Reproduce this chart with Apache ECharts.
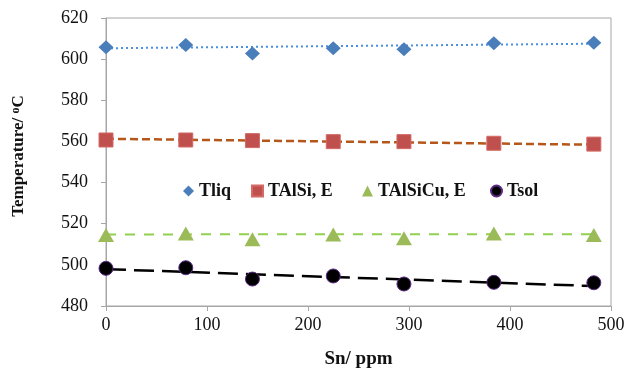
<!DOCTYPE html>
<html>
<head>
<meta charset="utf-8">
<script src="https://cdn.jsdelivr.net/npm/echarts@6/dist/echarts.min.js"></script>
<style>
  html, body { margin: 0; padding: 0; background: #fff; }
  #chart { width: 628px; height: 370px; }
</style>
</head>
<body>
<div id="chart"></div>
<script>
// Sn additions (ppm) and characteristic temperatures (°C)
const sn       = [0, 79, 145, 225, 295, 384, 483];
const tLiq     = [605.8, 606.9, 602.8, 605.3, 604.8, 607.7, 608.0];
const tAlSi    = [560.7, 560.7, 560.4, 559.9, 559.9, 559.1, 558.7];
const tAlSiCu  = [514.5, 515.3, 512.4, 514.8, 512.9, 515.3, 514.5];
const tSol     = [498.3, 498.6, 493.1, 494.6, 490.7, 491.5, 491.3];

// Linear trend lines: value at first and last Sn level
const trendX       = [0, 483];
const trendLiq     = [605.3, 607.5];
const trendAlSi    = [561.3, 558.4];
const trendAlSiCu  = [514.8, 514.9];
const trendSol     = [497.9, 489.7];

const seriesNames = ['Tliq', 'TAlSi, E', 'TAlSiCu, E', 'Tsol'];
const yTicks = { min: 480, max: 620, step: 20 };
const xTicks = { min: 0, max: 500, step: 100 };

const serif = '"Liberation Serif", "Times New Roman", serif';

const pairs = (xs, ys) => xs.map((x, i) => [x, ys[i]]);

function points(name, ys, symbol, size, color, border) {
  return {
    name: name, type: 'scatter', data: pairs(sn, ys),
    symbol: symbol, symbolSize: size, z: 5,
    itemStyle: { color: color, borderColor: border || color, borderWidth: border ? 1 : 0, opacity: 1 }
  };
}
function trend(ys, color, width, dash) {
  return {
    type: 'line', data: pairs(trendX, ys), symbol: 'none', silent: true, z: 3,
    lineStyle: { color: color, width: width, type: dash }
  };
}

const chart = echarts.init(document.getElementById('chart'));
chart.setOption({
  animation: false,
  grid: {
    left: 106, right: 17, top: 18, bottom: 64, outerBoundsMode: 'none', containLabel: false,
    show: true, borderColor: '#a6a6a6', borderWidth: 1
  },
  legend: [
    { left: 178, name: seriesNames[0] },
    { left: 246, name: seriesNames[1] },
    { left: 357, name: seriesNames[2] },
    { left: 485, name: seriesNames[3] }
  ].map(l => ({
    data: [l.name], left: l.left, top: 177, itemWidth: 11, itemHeight: 11, itemGap: 0,
    textStyle: { fontFamily: serif, fontSize: 18, fontWeight: 'bold', color: '#111', padding: [0, 0, 0, 0] }
  })),
  xAxis: {
    type: 'value', min: xTicks.min, max: xTicks.max, interval: xTicks.step,
    name: 'Sn/ ppm', nameLocation: 'middle', nameGap: 44,
    nameTextStyle: { fontFamily: serif, fontSize: 19, fontWeight: 'bold', color: '#111' },
    axisLine: { show: true, lineStyle: { color: '#a6a6a6' } },
    axisTick: { show: true, length: 5, lineStyle: { color: '#a6a6a6' } },
    splitLine: { show: false },
    axisLabel: { fontFamily: serif, fontSize: 18, color: '#111', margin: 10 }
  },
  yAxis: {
    type: 'value', min: yTicks.min, max: yTicks.max, interval: yTicks.step,
    name: 'Temperature/ {sup|o}C', nameLocation: 'middle', nameGap: 78, nameRotate: 90,
    nameTextStyle: {
      fontFamily: serif, fontSize: 17, fontWeight: 'bold', color: '#111', padding: [0, 0, 0, 12],
      rich: { sup: { fontFamily: serif, fontSize: 12, fontWeight: 'bold', color: '#111', verticalAlign: 'top', padding: [0, 0, 6, 0] } }
    },
    axisLine: { show: true, lineStyle: { color: '#a6a6a6' } },
    axisTick: { show: true, length: 5, lineStyle: { color: '#a6a6a6' } },
    splitLine: { show: false },
    axisLabel: { fontFamily: serif, fontSize: 18, color: '#111', margin: 18 }
  },
  series: [
    trend(trendLiq, '#4a90e2', 2, [2, 3]),
    trend(trendAlSi, '#b5561a', 2.5, [8, 4]),
    trend(trendAlSiCu, '#92d050', 2, [10, 9]),
    trend(trendSol, '#000000', 2.5, [20, 8]),
    points(seriesNames[0], tLiq, 'diamond', [15, 14], '#4a7ebb'),
    points(seriesNames[1], tAlSi, 'rect', [14, 14], '#c0504d', '#d46a66'),
    points(seriesNames[2], tAlSiCu, 'triangle', [16, 14], '#9bbb59'),
    points(seriesNames[3], tSol, 'circle', 14, '#000000', '#5b2a86')
  ]
});
</script>
</body>
</html>
